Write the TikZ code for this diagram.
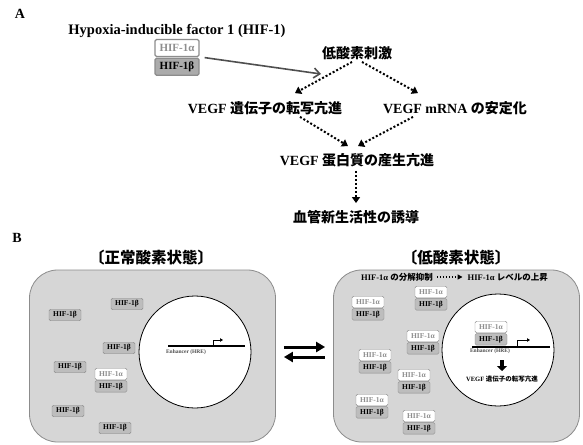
\documentclass[tikz,border=0pt]{standalone}
\usepackage{fontspec}
\setmainfont{Liberation Serif}
\newfontfamily\jpfont{Noto Sans CJK JP}
\usetikzlibrary{
    arrows.meta,
    positioning
}

\definecolor{cellgray}{HTML}{D6D6D6}
\definecolor{edgegray}{HTML}{8C8C8C}
\definecolor{betagray}{HTML}{BDBDBD}
\definecolor{alphagray}{HTML}{8E8E8E}
\definecolor{arrowgray}{HTML}{4F4F4F}

\tikzset{
    flowtext/.style={font=\fontsize{14}{16}\selectfont\bfseries, inner sep=2pt},
    dotarrow/.style={line width=2pt, dash pattern=on 2pt off 2pt,
        -{Triangle[width=8pt,length=6pt]}},
    cell/.style={draw=edgegray, fill=cellgray, rounded corners=28pt,
        minimum width=246pt, minimum height=172pt, line width=0.8pt},
    nucleus/.style={circle, draw=black, fill=white, minimum size=112pt,
        inner sep=0pt, line width=0.8pt},
    hifa/.style={draw=edgegray, fill=white, text=alphagray, rounded corners=1.5pt,
        minimum width=32pt, minimum height=11.5pt, inner sep=1pt,
        font=\fontsize{7.5}{8}\selectfont\bfseries},
    hifb/.style={hifa, fill=betagray, text=black},
    dna/.style={line width=1.5pt},
    tss/.style={line width=0.7pt, -{Triangle[width=3.5pt,length=3pt]}},
    enh/.style={text=black!70, font=\fontsize{5.5}{6}\selectfont\bfseries, inner sep=0pt},
    eqarrow/.style={line width=3pt, -{Triangle[width=10pt,length=9pt]}}
}

\begin{document}
\begin{tikzpicture}[x=1pt,y=-1pt]
\useasboundingbox (0,0) rectangle (583,444);

% Panel labels
\node[font=\fontsize{14}{16}\selectfont\bfseries] (labA) at (20,14) {A};
\node[font=\fontsize{14}{16}\selectfont\bfseries] (labB) at (17,238) {B};

% HIF-1 heterodimer
\node[font=\fontsize{14.5}{16}\selectfont\bfseries] (hif) at (177,31) {Hypoxia-inducible factor 1 (HIF-1)};
\node[hifa, minimum width=44pt, minimum height=17pt, line width=1.2pt,
      font=\fontsize{11}{12}\selectfont\bfseries] (hifA) at (177,48) {HIF-1α};
\node[hifb, minimum width=44pt, minimum height=17pt, line width=1.2pt, fill=black!33,
      font=\fontsize{11}{12}\selectfont\bfseries, below=0.5pt of hifA] (hifB) {HIF-1β};

% Cascade
\node[flowtext] (stim) at (357,53) {\jpfont 低酸素刺激};
\node[flowtext] (trans) at (265,108) {VEGF {\jpfont 遺伝子の転写亢進}};
\node[flowtext] (stab) at (455,108) {VEGF mRNA {\jpfont の安定化}};
\node[flowtext] (prot) at (357,160) {VEGF {\jpfont 蛋白質の産生亢進}};
\node[flowtext] (angio) at (356,217) {\jpfont 血管新生活性の誘導};

\coordinate (stimin) at (321,74);
\draw[arrowgray, line width=1.6pt, -{Straight Barb[length=6pt,width=10pt]}]
    ([xshift=5pt]hifB.north east) -- (stimin);

\draw[dotarrow] ([xshift=-5pt]stim.south) -- ([xshift=30pt,yshift=6pt]trans.north);
\draw[dotarrow] ([xshift=5pt]stim.south) -- ([xshift=-37pt,yshift=6pt]stab.north);
\draw[dotarrow] ([xshift=35pt]trans.south) -- ([xshift=-9pt,yshift=5pt]prot.north);
\draw[dotarrow] ([xshift=-42pt]stab.south) -- ([xshift=1pt,yshift=5pt]prot.north);
\draw[dotarrow] ([xshift=-1pt,yshift=-2pt]prot.south) -- ([yshift=5pt]angio.north);

% Normoxia
\node[font=\fontsize{15.5}{17}\selectfont\bfseries\jpfont] (tnormo) at (151,258) {〔正常酸素状態〕};
\node[cell] (normo) at (152.5,356) {};
\node[nucleus] (nucN) at (195,352) {};
\draw[dna] (168,346) -- (245,346);
\draw[tss] (213,346) -- (213,340) -- (223,340);
\node[enh] (enhN) at (186,352) {Enhancer (HRE)};

\foreach \x/\y [count=\i] in {127/304, 65/315, 119/348, 70/367, 68/411, 115/428}
    \node[hifb] (nb\i) at (\x,\y) {HIF-1β};
\node[hifa] (naA) at (111,374) {HIF-1α};
\node[hifb, below=0.5pt of naA] (naB) {HIF-1β};

% Hypoxia
\node[font=\fontsize{15.5}{17}\selectfont\bfseries\jpfont] (thypo) at (456,258) {〔低酸素状態〕};
\node[cell] (hypo) at (456.5,356) {};
\node[nucleus] (nucH) at (498,350) {};

\node[font=\fontsize{8.5}{9}\selectfont\bfseries, inner sep=1pt, anchor=west] (degr) at (360,277)
    {HIF-1α {\jpfont の分解抑制}};
\node[font=\fontsize{8.5}{9}\selectfont\bfseries, inner sep=1pt, anchor=east] (rise) at (549,277)
    {HIF-1α {\jpfont レベルの上昇}};
\draw[line width=1.4pt, dash pattern=on 1.4pt off 1.6pt, -{Triangle[width=5pt,length=5pt]},
      shorten <=3pt, shorten >=4pt] (degr) -- (rise);

\foreach \x/\y [count=\i] in {368/302, 431/292, 423/336, 375/355, 414/375, 372/400, 419/416} {
    \node[hifa] (ha\i) at (\x,\y) {HIF-1α};
    \node[hifb, below=0.5pt of ha\i] (hb\i) {HIF-1β};
}

\draw[dna] (472,347) -- (550,347);
\draw[tss, line width=0.9pt] (517,347) -- (517,340) -- (530,340);
\node[enh] (enhH) at (490,351) {Enhancer (HRE)};
\node[hifa] (haN) at (491,327) {HIF-1α};
\node[hifb, below=0.5pt of haN] (hbN) {HIF-1β};
\draw[line width=4.5pt, -{Triangle[width=10pt,length=5pt]}] (502,360) -- (502,371);
\node[font=\fontsize{6.5}{7}\selectfont\bfseries, inner sep=0pt] (vegfN) at (502,379)
    {VEGF {\jpfont 遺伝子の転写亢進}};

% Reversible switch
\draw[eqarrow] ([xshift=8pt,yshift=9pt]normo.east) -- ([xshift=-8pt,yshift=9pt]hypo.west);
\draw[eqarrow] ([xshift=-8pt,yshift=-1pt]hypo.west) -- ([xshift=8pt,yshift=-1pt]normo.east);

\end{tikzpicture}
\end{document}
